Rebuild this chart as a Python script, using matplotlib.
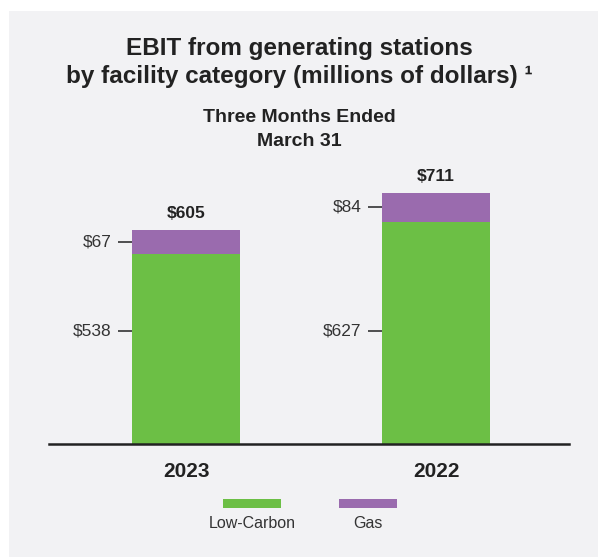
import matplotlib.pyplot as plt
from matplotlib.patches import Rectangle

plt.rcParams['font.family'] = ['Liberation Sans', 'DejaVu Sans']

years = ["2023", "2022"]
low_carbon = [538, 627]
gas = [67, 84]
totals = [605, 711]
series_names = ["Low-Carbon", "Gas"]

GREEN = "#6cbf45"
PURPLE = "#9a6bae"
BG = "#f2f2f4"
TXT = "#222222"

W, H = 598, 557
fig = plt.figure(figsize=(W / 100, H / 100), dpi=100)
fig.patch.set_facecolor("white")
fig.patches.append(Rectangle((9 / W, 0), 1, 1 - 11 / H,
                             transform=fig.transFigure, facecolor=BG,
                             edgecolor="none", zorder=-1))

# axes placed so the baseline sits where the reference has it
ax = fig.add_axes([49 / W, (H - 444) / H, 520 / W, 284 / H])
ax.set_facecolor("none")
ax.set_xlim(-0.548, 1.532)
ax.set_ylim(0, 803)

x = range(len(years))
width = 0.432
ax.bar(x, low_carbon, width, color=GREEN, zorder=2)
ax.bar(x, gas, width, bottom=low_carbon, color=PURPLE, zorder=2)

for i in x:
    left = i - width / 2
    # gas label at segment middle, low-carbon label at a fixed height
    for yv, val in [(low_carbon[i] + gas[i] / 2, gas[i]), (320, low_carbon[i])]:
        ax.plot([left - 0.055, left], [yv, yv], color=TXT, lw=1.1,
                solid_capstyle="butt", clip_on=False)
        ax.text(left - 0.083, yv, f"${val}", ha="right", va="center",
                fontsize=12.5, color="#333333")
    ax.text(i, totals[i] + 46, f"${totals[i]}", ha="center", va="center",
            fontsize=12.5, fontweight="bold", color=TXT)
    ax.text(i, -79, years[i], ha="center", va="center", fontsize=15,
            fontweight="bold", color=TXT)

for s in ["top", "right", "left"]:
    ax.spines[s].set_visible(False)
ax.spines["bottom"].set_color(TXT)
ax.spines["bottom"].set_linewidth(1.8)
ax.spines["bottom"].set_zorder(3)
ax.set_xticks([])
ax.set_yticks([])

# titles
fig.text(0.5, 1 - 48 / H, "EBIT from generating stations", ha="center",
         va="center", fontsize=17.5, fontweight="bold", color=TXT)
fig.text(0.5, 1 - 77 / H, "by facility category (millions of dollars) \u00b9",
         ha="center", va="center", fontsize=17.5, fontweight="bold", color=TXT)
fig.text(0.5, 1 - 118 / H, "Three Months Ended", ha="center", va="center",
         fontsize=14, fontweight="bold", color=TXT)
fig.text(0.5, 1 - 141 / H, "March 31", ha="center", va="center",
         fontsize=14, fontweight="bold", color=TXT)

# legend: swatch above label
for name, col, cx in zip(series_names, [GREEN, PURPLE], [252, 368]):
    fig.patches.append(Rectangle(((cx - 29) / W, 1 - 508 / H), 58 / W, 9 / H,
                                 transform=fig.transFigure, facecolor=col,
                                 edgecolor="none", zorder=2))
    fig.text(cx / W, 1 - 523 / H, name, ha="center", va="center",
             fontsize=11.5, color="#333333")

fig.savefig("out.png", dpi=100)
